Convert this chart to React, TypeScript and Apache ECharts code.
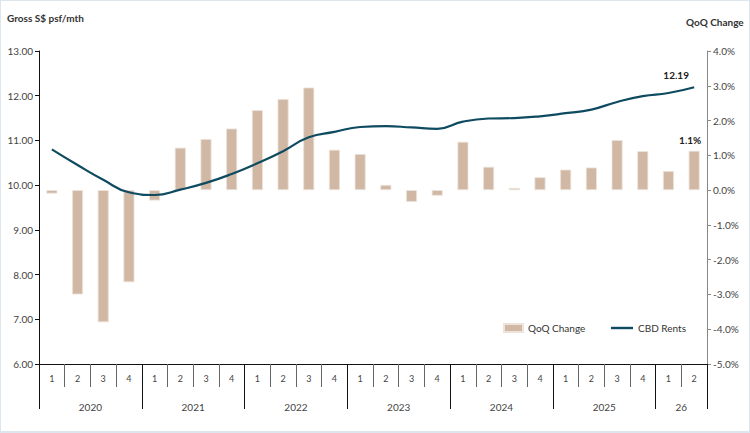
import React, { useEffect, useRef } from "react";
import * as echarts from "echarts";

const quarters = ["1","2","3","4","1","2","3","4","1","2","3","4","1","2","3","4","1","2","3","4","1","2","3","4","1","2"];
const years = ["2020", "2021", "2022", "2023", "2024", "2025", "26"];
const qoqChange = [-0.1, -3.0, -3.8, -2.65, -0.3, 1.22, 1.47, 1.77, 2.3, 2.62, 2.95, 1.16, 1.04, 0.15, -0.34, -0.16, 1.39, 0.67, 0.06, 0.37, 0.59, 0.65, 1.44, 1.12, 0.55, 1.13];
const cbdRents = [10.8, 10.45, 10.12, 9.84, 9.78, 9.9, 10.05, 10.25, 10.49, 10.76, 11.07, 11.19, 11.3, 11.32, 11.29, 11.26, 11.42, 11.49, 11.5, 11.54, 11.61, 11.69, 11.86, 11.99, 12.06, 12.19];
const leftTicks = { min: 6, max: 13, interval: 1 };
const rightTicks = { min: -5, max: 4, interval: 1 };

const FONT = "Lato, 'Noto Sans', sans-serif";

export default function App() {
  const ref = useRef<HTMLDivElement>(null);
  useEffect(() => {
    if (!ref.current) return;
    const chart = echarts.init(ref.current, undefined, { renderer: "svg" });
    const n = quarters.length * 2 + 1;
    const yearData: string[] = new Array(n).fill("");
    const yearLabelIdx: number[] = [];
    years.forEach((y, i) => {
      const start = i * 8;
      const end = Math.min(start + 8, n - 1);
      const mid = Math.round((start + end) / 2);
      yearData[mid] = y;
      yearLabelIdx.push(mid);
    });
    const barData = qoqChange.map((v, i) =>
      i === qoqChange.length - 1
        ? {
            value: v,
            label: {
              show: true,
              position: "top",
              offset: [-4, -1],
              formatter: (p: any) => p.value.toFixed(1) + "%",
              fontWeight: "bold",
              fontSize: 10,
              color: "#222",
              fontFamily: FONT,
            },
          }
        : v
    );
    const lineData = cbdRents.map((v, i) =>
      i === cbdRents.length - 1
        ? {
            value: v,
            label: {
              show: true,
              position: "top",
              offset: [-18, -2],
              formatter: (p: any) => p.value.toFixed(2),
              fontWeight: "bold",
              fontSize: 10,
              color: "#222",
              fontFamily: FONT,
            },
          }
        : v
    );
    const legendText = { fontSize: 10, color: "#333", fontFamily: FONT };
    chart.setOption({
      animation: false,
      backgroundColor: "#ffffff",
      textStyle: { fontFamily: FONT },
      grid: { left: 38, right: 42, top: 50, bottom: 67, containLabel: false },
      legend: [
        {
          left: 502,
          top: 322,
          padding: 0,
          itemGap: 0,
          itemWidth: 19,
          itemHeight: 8,
          textStyle: legendText,
          data: [{ name: "QoQ Change", icon: "rect" }],
        },
        {
          left: 610,
          top: 322,
          padding: 0,
          itemWidth: 22,
          itemHeight: 2.4,
          textStyle: legendText,
          data: [{ name: "CBD Rents", icon: "rect" }],
        },
      ],
      graphic: [
        {
          type: "text",
          left: 6,
          top: 12,
          style: { text: "Gross S$ psf/mth", fontSize: 10, fontWeight: "bold", fill: "#333", fontFamily: FONT },
        },
        {
          type: "text",
          left: 685,
          top: 16,
          style: { text: "QoQ Change", fontSize: 10, fontWeight: "bold", fill: "#333", fontFamily: FONT },
        },
      ],
      xAxis: [
        {
          type: "category",
          data: quarters,
          boundaryGap: true,
          axisLine: { onZero: false, lineStyle: { color: "#111", width: 1 } },
          axisTick: { show: true, interval: 0, length: 23, lineStyle: { color: "#666" } },
          axisLabel: { interval: 0, margin: 10, fontSize: 9, color: "#444", fontFamily: FONT },
        },
        {
          type: "category",
          data: yearData,
          boundaryGap: false,
          position: "bottom",
          offset: 0,
          axisLine: { show: false, onZero: false },
          axisTick: {
            show: true,
            length: 45,
            interval: (i: number) => i % 8 === 0 || i === n - 1,
            lineStyle: { color: "#111" },
          },
          axisLabel: {
            interval: (i: number) => yearLabelIdx.includes(i),
            margin: 38,
            fontSize: 10,
            color: "#444",
            fontFamily: FONT,
          },
        },
      ],
      yAxis: [
        {
          type: "value",
          ...leftTicks,
          position: "left",
          axisLine: { show: true, onZero: false, lineStyle: { color: "#111" } },
          axisTick: { show: true, length: 4, lineStyle: { color: "#111" } },
          splitLine: { show: false },
          axisLabel: { formatter: (v: number) => v.toFixed(2), fontSize: 10, color: "#444", margin: 6, fontFamily: FONT },
        },
        {
          type: "value",
          ...rightTicks,
          position: "right",
          axisLine: { show: true, onZero: false, lineStyle: { color: "#888" } },
          axisTick: { show: true, length: 4, lineStyle: { color: "#888" } },
          splitLine: { show: false },
          axisLabel: { formatter: (v: number) => v.toFixed(1) + "%", fontSize: 10, color: "#444", margin: 6, fontFamily: FONT },
        },
      ],
      series: [
        {
          name: "QoQ Change",
          type: "bar",
          xAxisIndex: 0,
          yAxisIndex: 1,
          barWidth: 11,
          itemStyle: { color: "#d1b8a5", borderColor: "#eee3da", borderWidth: 0.8 },
          data: barData,
          z: 2,
        },
        {
          name: "CBD Rents",
          type: "line",
          xAxisIndex: 0,
          yAxisIndex: 0,
          smooth: 0.5,
          symbol: "circle",
          symbolSize: 0,
          showSymbol: true,
          lineStyle: { color: "#0e4b61", width: 2.2 },
          itemStyle: { color: "#0e4b61" },
          data: lineData,
          z: 3,
        },
      ],
    });
    return () => chart.dispose();
  }, []);
  return (
    <div
      style={{
        position: "fixed",
        left: 0,
        top: 0,
        width: 750,
        height: 433,
        boxSizing: "border-box",
        borderStyle: "solid",
        borderColor: "#dde5ee",
        borderWidth: "1px 1px 2px 1px",
        background: "#fff",
      }}
    >
      <div ref={ref} style={{ width: 748, height: 430 }} />
    </div>
  );
}
